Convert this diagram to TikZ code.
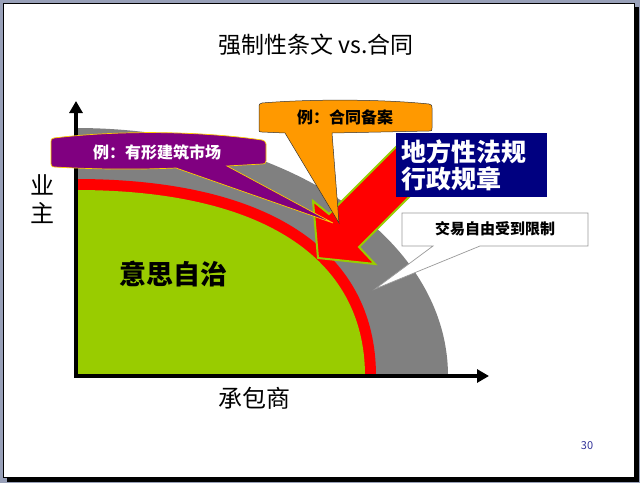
\documentclass[tikz,border=0pt]{standalone}
\usepackage{fontspec}
\setmainfont{Noto Sans CJK SC}
\usepackage{tikz}
\usetikzlibrary{arrows.meta, calc}
\definecolor{cornice}{RGB}{152,160,184}
\definecolor{grigio}{RGB}{128,128,128}
\definecolor{verdino}{RGB}{153,204,0}
\definecolor{rosso}{RGB}{255,0,0}
\definecolor{viola}{RGB}{128,0,128}
\definecolor{arancio}{RGB}{255,153,0}
\definecolor{oro}{RGB}{255,204,0}
\definecolor{blunotte}{RGB}{0,0,128}
\definecolor{numpag}{RGB}{51,51,153}
\newcommand{\fs}[1]{\fontsize{#1}{#1}\selectfont}

\begin{document}
\begin{tikzpicture}[x=1pt, y=-1pt,
    asse/.style = {line width=3.4pt, -{Triangle[length=12pt,width=13pt]}},
    fumetto/.style = {line width=0.7pt},
    etich/.style = {inner sep=0pt, font=\bfseries\fs{16}}]
    \useasboundingbox (0,0) rectangle (640,483);
    % Cornice della diapositiva
    \fill[cornice] (0,0) rectangle (640,483);
    \fill[black] (7,7) rectangle (639,482);
    \filldraw[fill=white, draw=black, line width=0.8pt] (3.4,3.4) rectangle (634,477);
    % Titolo
    \node (titolo) at (316,45) {\fs{23}强制性条文 vs.合同};
    % Origine degli assi
    \coordinate (O) at (76,376);
    \coordinate (Ytop) at (76,101);
    \coordinate (Xend) at (489,376);
    % Zone: grigia, rossa, verde
    \fill[grigio] (O) -- (76,128) .. controls (284,128) and (448,237) .. (448,376) -- cycle;
    \fill[rosso] (O) -- (76,179) .. controls (268,179) and (376,250) .. (376,376) -- cycle;
    \fill[verdino] (O) -- (76,190) .. controls (261,190) and (365,257) .. (365,376) -- cycle;
    % Assi
    \draw[asse] (O) -- (Ytop);
    \draw[asse] ($(O)+(-2,0)$) -- (Xend);
    \node (ye) at (42,185) {\fs{24}业};
    \node (zhu) at (42,213) {\fs{24}主};
    \node (chengbao) at (254,398) {\fs{24}承包商};
    \node (yisi) at (173,274) {\bfseries\fs{27}意思自治};
    % Freccia rossa
    \filldraw[fill=rosso, draw=verdino, line width=2pt, line join=miter]
        (318,258) -- (313,201) -- (329,214) -- (401,142) -- (421,185)
        -- (359,247) -- (375,264) -- cycle;
    % Riquadro blu
    \node[fill=blunotte, text=white, anchor=north west, minimum width=151pt,
        minimum height=64pt, inner sep=0pt, align=left, text width=140pt,
        font=\bfseries\fontsize{25}{27}\selectfont] (norme) at (396,133)
        {地方性法规\\行政规章};
    % Fumetto viola
    \filldraw[fumetto, fill=viola, draw=oro]
        (54,138) .. controls (120,130) and (200,131) .. (262,140)
        .. controls (265,141) .. (266,144) -- (266,161)
        .. controls (265,164) .. (262,164) -- (227,166) -- (333,223) -- (176,168)
        .. controls (130,170) and (90,169) .. (55,167)
        .. controls (52,167) .. (51,164) -- (51,142)
        .. controls (51,139) .. cycle;
    \node[etich, text=white] (mercato) at (157,152) {例：有形建筑市场};
    % Fumetto arancione
    \filldraw[fumetto, fill=arancio, draw=black!80, line width=0.5pt]
        (262,103) .. controls (310,99) and (380,99) .. (429,104)
        .. controls (432,105) .. (432,108) -- (432,128)
        .. controls (432,131) .. (429,131) -- (332,133) -- (339,223) -- (285,133)
        -- (262,132) .. controls (259,132) .. (259,129) -- (259,107)
        .. controls (259,104) .. cycle;
    \node[etich] (beian) at (345,117) {例：合同备案};
    % Fumetto bianco
    \filldraw[fill=white, draw=black!40, line width=0.7pt]
        (402,213) -- (588,213) -- (588,246) -- (480,246) -- (375,289)
        -- (433,246) -- (402,246) -- cycle;
    \node[etich, font=\bfseries\fs{15}] (limitata) at (495,229) {交易自由受到限制};
    % Numero di pagina
    \node[text=numpag] (pagina) at (587,446) {\fs{11}30};
\end{tikzpicture}
\end{document}
